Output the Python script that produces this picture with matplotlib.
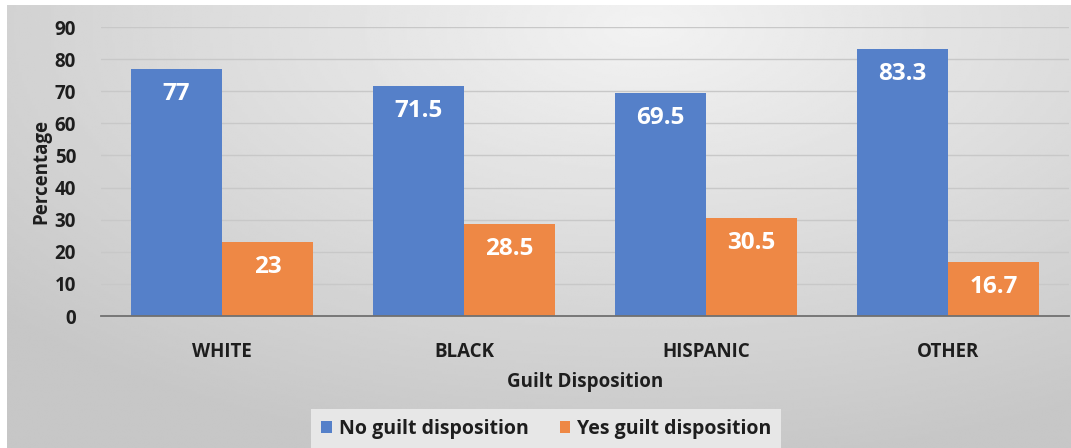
import numpy as np
import matplotlib.pyplot as plt

categories = ["WHITE", "BLACK", "HISPANIC", "OTHER"]
no_guilt = [77, 71.5, 69.5, 83.3]
yes_guilt = [23, 28.5, 30.5, 16.7]
series_names = ["No guilt disposition", "Yes guilt disposition"]

BLUE = "#5580c9"
ORANGE = "#ee8845"
TXT = "#1e1e1e"

plt.rcParams["font.family"] = ["Open Sans", "DejaVu Sans"]
plt.rcParams["font.weight"] = "bold"

fig = plt.figure(figsize=(10.71, 4.48), dpi=100)

# gradient background (radial, lighter near top centre)
bg = fig.add_axes([7 / 1071, 0, 1 - 7 / 1071, 1 - 5 / 448], zorder=-10)
yy, xx = np.mgrid[0:1:200j, 0:1:400j]
r = np.sqrt(((xx - 0.6) / 0.9) ** 2 + ((yy - 0.05) / 1.1) ** 2)
shade = np.clip(0.95 - 0.19 * r, 0.78, 0.95)
bg.imshow(shade, cmap="gray", vmin=0, vmax=1, aspect="auto",
          extent=[0, 1, 0, 1], origin="upper", interpolation="bilinear")
bg.axis("off")

ax = fig.add_axes([101 / 1071, 1 - 316 / 448, 968 / 1071, 289 / 448])
ax.patch.set_alpha(0)

x = np.arange(len(categories))
w = 0.376
b1 = ax.bar(x - w / 2, no_guilt, w, color=BLUE, label=series_names[0], zorder=3)
b2 = ax.bar(x + w / 2, yes_guilt, w, color=ORANGE, label=series_names[1], zorder=3)

for bars in (b1, b2):
    for rect in bars:
        h = rect.get_height()
        ax.annotate(f"{h:g}", (rect.get_x() + rect.get_width() / 2, h),
                    xytext=(0, -18), textcoords="offset points",
                    ha="center", va="center", color="white",
                    fontsize=17.5, fontweight="bold", zorder=4)

ax.set_ylim(0, 90)
ax.set_xlim(-0.5, len(categories) - 0.5)
ax.set_yticks(np.arange(0, 91, 10))
ax.set_xticks(x)
ax.set_xticklabels(categories)
ax.tick_params(axis="both", length=0, labelsize=13.5, colors=TXT)
ax.tick_params(axis="x", pad=19)
ax.tick_params(axis="y", pad=18)
for lbl in ax.get_xticklabels() + ax.get_yticklabels():
    lbl.set_fontweight("bold")
ax.yaxis.grid(True, color="#c8c8c8", linewidth=1, zorder=0)
for s in ["top", "right", "left"]:
    ax.spines[s].set_visible(False)
ax.spines["bottom"].set_color("#707070")
ax.spines["bottom"].set_linewidth(1.3)
ax.spines["bottom"].set_zorder(4)

ax.set_xlabel("Guilt Disposition", fontsize=13.5, fontweight="bold",
              color=TXT, labelpad=7)
ax.set_ylabel("Percentage", fontsize=13.5, fontweight="bold",
              color=TXT, labelpad=2)

leg = fig.legend(loc="lower center", bbox_to_anchor=(0.51, -0.002), ncol=2,
                 frameon=True, prop={"weight": "bold", "size": 14},
                 handlelength=0.55, handleheight=0.55,
                 handletextpad=0.35, columnspacing=1.6, borderpad=0.5,
                 borderaxespad=0, fancybox=False)
leg.get_frame().set_facecolor("#ededed")
leg.get_frame().set_edgecolor("none")
leg.get_frame().set_alpha(0.85)
for t in leg.get_texts():
    t.set_color(TXT)

fig.savefig("out.png", dpi=100)
